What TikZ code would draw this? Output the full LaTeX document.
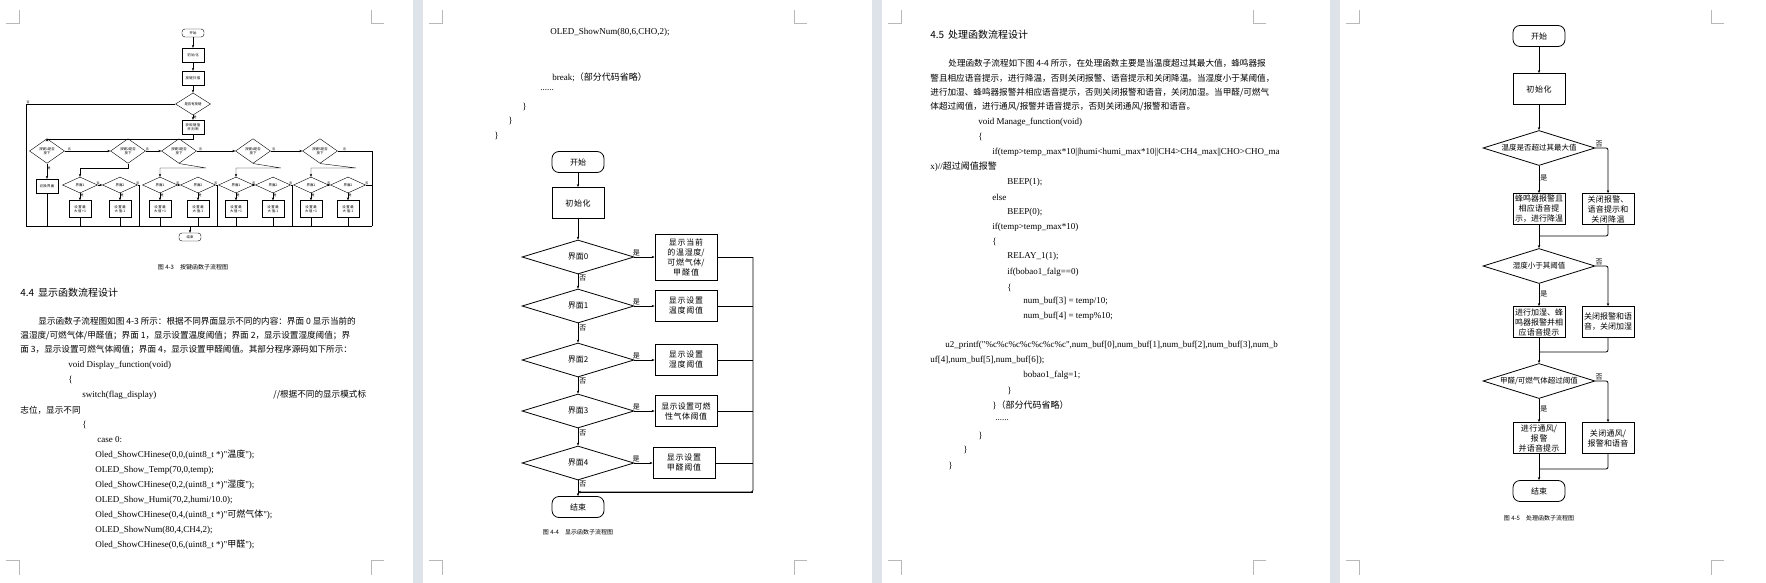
\documentclass[tikz,border=0pt]{standalone}
\usepackage{fontspec}
\setmainfont{Noto Sans CJK SC}
\newfontfamily\cjk{Noto Sans CJK SC}
\newfontfamily\code{Liberation Serif}
\XeTeXlinebreaklocale "zh"
\XeTeXlinebreakskip=0pt plus 1pt
\usetikzlibrary{shapes.geometric,arrows.meta,positioning}
\definecolor{gapgray}{HTML}{DDE3E8}
\definecolor{markgray}{HTML}{B8B8B8}
\begin{document}
\begin{tikzpicture}[
x=1pt,y=-1pt,thick,
>={Stealth[length=3pt,width=2.4pt]},
body/.style={anchor=west,inner sep=0pt,font=\fontsize{8.6}{10}\selectfont},
src/.style={anchor=west,inner sep=0pt,font=\fontsize{9}{10}\selectfont\code},
term/.style={draw,rounded corners=7pt,minimum width=52pt,minimum height=21pt,font=\fontsize{8}{9}\selectfont},
box/.style={draw,minimum width=52pt,minimum height=31pt,align=center,text width=48pt,inner sep=1pt,font=\fontsize{8}{10}\selectfont},
wbox/.style={box,minimum width=62pt,text width=58pt},
dec/.style={draw,diamond,minimum width=112pt,minimum height=34pt,inner sep=0pt,font=\fontsize{8}{9}\selectfont},
tiny/.style={font=\fontsize{3.4}{4}\selectfont,inner sep=0.5pt,align=center},
tterm/.style={tiny,draw,rounded corners=3pt,minimum width=22pt,minimum height=8pt},
tbox/.style={tiny,draw,minimum width=22pt,minimum height=14pt,text width=20pt},
tdec/.style={tiny,draw,diamond,minimum width=35pt,minimum height=16pt},
lbl/.style={font=\fontsize{7}{8}\selectfont,inner sep=1pt},
tlbl/.style={font=\fontsize{3}{3}\selectfont,inner sep=0.5pt}]
\useasboundingbox (0,0) rectangle (1766,583);
% pages and gaps
\fill[white] (0,0) rectangle (1766,583);
\foreach \gx in {413,872,1330}
  \fill[gapgray] (\gx,0) rectangle (\gx+10,583);
\foreach \px in {0,423,882,1340}{
  \draw[markgray,thin] (\px+6,23) -- (\px+19,23) -- (\px+19,10);
  \draw[markgray,thin] (\px+384,23) -- (\px+371,23) -- (\px+371,10);
  \draw[markgray,thin] (\px+6,560) -- (\px+19,560) -- (\px+19,575);
  \draw[markgray,thin] (\px+384,560) -- (\px+371,560) -- (\px+371,575);
}

%page 1: key flow
\begin{scope}[thin]
  \node[tterm] (k0) at (193,33) {开始};
  \node[tbox] (k1) at (193,55) {初始化};
  \node[tbox] (k2) at (193,78) {按键扫描};
  \node[tdec] (k3) at (193,104) {是否有按键};
  \node[tbox] (k4) at (193,127) {获取键值\\并判断};
  \node[tterm] (kend) at (190,237) {结束};
  \coordinate (kbl) at (26,226);
  \coordinate (kbr) at (372,226);
  \draw (kbl) -- (kbr);
  \draw[->] (190,226) -- (kend);
  \draw[->] (k0) -- (k1);
  \draw[->] (k1) -- (k2);
  \draw[->] (k2) -- (k3);
  \draw[->] (k3) -- (k4) node[tlbl,right,pos=0.4] {是};
  \draw (k3.west) -- (26,104) node[tlbl,above right] {否} -- (kbl);
  \foreach \i/\x in {1/47,2/128,3/179,4/253,5/320}
    \node[tdec] (s\i) at (\x,151) {按键{\i}是否\\按下};
  \draw[->] (k4.south) -- (193,139) -| (s1.north);
  \foreach \i/\j in {1/2,2/3,3/4,4/5}
    \draw[->] (s\i.east) -- (s\j.west) node[tlbl,above,pos=0.1] {否};
  \draw (s5.east) -- (372,151) node[tlbl,above,pos=0.2] {否} -- (kbr);
  \node[tbox] (sb1) at (47,186) {切换界面};
  \draw[->] (s1) -- (sb1) node[tlbl,right,pos=0.3] {是};
  \draw (sb1) -- (47,226);
  \foreach \i/\xa/\xb/\xd in {2/80/120/139,3/160/198/217,4/236/273/292,5/311/348/372}{
    \node[tdec] (a\i) at (\xa,185) {界面1};
    \node[tdec] (b\i) at (\xb,185) {界面2};
    \node[tbox,minimum height=17pt] (ab\i) at (\xa,209) {设置最\\大值+1};
    \node[tbox,minimum height=17pt] (bb\i) at (\xb,209) {设置最\\大值-1};
    \draw[->] (s\i.south) -- (\xb+8,168) -| (a\i.north);
    \draw[->] (a\i.east) -- (b\i.west) node[tlbl,above,pos=0.1] {否};
    \draw (b\i.east) -- (\xd,185) node[tlbl,above,pos=0.2] {否} -- (\xd,226);
    \draw[->] (a\i) -- (ab\i) node[tlbl,right,pos=0.3] {是};
    \draw[->] (b\i) -- (bb\i) node[tlbl,right,pos=0.3] {是};
    \draw (ab\i) -- (\xa,226);
    \draw (bb\i) -- (\xb,226);
  }
\end{scope}
\node[font=\fontsize{6}{7}\selectfont] (cap1) at (193,267) {图 4-3\quad 按键函数子流程图};
\node[body,font=\fontsize{10}{11}\selectfont] at (20,293) {4.4\, 显示函数流程设计};
\node[body] at (38,321) {显示函数子流程图如图 4-3 所示：根据不同界面显示不同的内容：界面 0 显示当前的};
\node[body] at (20,336) {温湿度/可燃气体/甲醛值；界面 1，显示设置温度阈值；界面 2，显示设置湿度阈值；界};
\node[body] at (20,350) {面 3，显示设置可燃气体阈值；界面 4，显示设置甲醛阈值。其部分程序源码如下所示：};
\node[src] at (68,365) {void Display\_function(void)};
\node[src] at (68,380) {\{};
\node[src] at (82,395) {switch(flag\_display)};
\node[body] at (273,395) {//根据不同的显示模式标};
\node[body] at (20,410) {志位，显示不同};
\node[src] at (82,425) {\{};
\node[src] at (97,440) {case 0:};
\node[src] at (95,455) {Oled\_ShowCHinese(0,0,(uint8\_t *)"{\cjk 温度}");};
\node[src] at (95,470) {OLED\_Show\_Temp(70,0,temp);};
\node[src] at (95,485) {Oled\_ShowCHinese(0,2,(uint8\_t *)"{\cjk 湿度}");};
\node[src] at (95,500) {OLED\_Show\_Humi(70,2,humi/10.0);};
\node[src] at (95,515) {Oled\_ShowCHinese(0,4,(uint8\_t *)"{\cjk 可燃气体}");};
\node[src] at (95,530) {OLED\_ShowNum(80,4,CH4,2);};
\node[src] at (95,545) {Oled\_ShowCHinese(0,6,(uint8\_t *)"{\cjk 甲醛}");};

%page 2: display flow
\node[src] at (550,32) {OLED\_ShowNum(80,6,CHO,2);};
\node[src] at (552,77) {break;{\cjk （部分代码省略）}};
\node[src] at (540,90) {......};
\node[src] at (522,107) {\}};
\node[src] at (508,121) {\}};
\node[src] at (494,136) {\}};
\node[term] (d0) at (578,162) {开始};
\node[box] (d1) at (578,203) {初始化};
\node[term] (dend) at (578,507) {结束};
\foreach \i/\y in {0/257,1/306,2/360,3/411,4/463}
  \node[dec] (g\i) at (578,\y) {界面\i};
\node[wbox,minimum height=46pt] (h0) at (686,257) {显示当前的温湿度/\\可燃气体/\\甲醛值};
\node[wbox] (h1) at (686,306) {显示设置温度阈值};
\node[wbox] (h2) at (686,360) {显示设置湿度阈值};
\node[wbox] (h3) at (686,411) {显示设置可燃性气体阈值};
\node[wbox] (h4) at (684,463) {显示设置甲醛阈值};
\coordinate (dr) at (753,492);
\draw[->] (d0) -- (d1);
\draw[->] (d1) -- (g0);
\foreach \i/\j in {0/1,1/2,2/3,3/4}
  \draw[->] (g\i) -- (g\j) node[lbl,right,pos=0.25] {否};
\draw[->] (g4) -- (dend) node[lbl,right,pos=0.25] {否};
\foreach \i in {0,...,4}{
  \draw[->] (g\i.east) -- (h\i.west) node[lbl,above,pos=0.1] {是};
  \draw (h\i.east) -- (h\i.east -| dr);
}
\draw[rounded corners=2pt] (h0.east -| dr) -- (dr) -- (578,492);
\draw[->] (dr) -- (578,492);
\node[font=\fontsize{6}{7}\selectfont] (cap2) at (578,532) {图 4-4\quad 显示函数子流程图};

%page 3: text
\node[body,font=\fontsize{10}{11}\selectfont] at (930,35) {4.5\, 处理函数流程设计};
\node[body] at (948,63) {处理函数子流程如下图 4-4 所示，在处理函数主要是当温度超过其最大值，蜂鸣器报};
\node[body] at (930,78) {警且相应语音提示，进行降温，否则关闭报警、语音提示和关闭降温。当湿度小于某阈值，};
\node[body] at (930,93) {进行加湿、蜂鸣器报警并相应语音提示，否则关闭报警和语音，关闭加湿。当甲醛/可燃气};
\node[body] at (930,107) {体超过阈值，进行通风/报警并语音提示，否则关闭通风/报警和语音。};
\node[src] at (978,122) {void Manage\_function(void)};
\node[src] at (978,137) {\{};
\node[src] at (992,152) {if(temp>temp\_max*10||humi<humi\_max*10||CH4>CH4\_max||CHO>CHO\_ma};
\node[src] at (930,167) {x)//{\cjk 超过阈值报警}};
\node[src] at (1007,182) {BEEP(1);};
\node[src] at (992,197) {else};
\node[src] at (1007,212) {BEEP(0);};
\node[src] at (992,227) {if(temp>temp\_max*10)};
\node[src] at (992,242) {\{};
\node[src] at (1007,256) {RELAY\_1(1);};
\node[src] at (1007,272) {if(bobao1\_falg==0)};
\node[src] at (1007,288) {\{};
\node[src] at (1023,301) {num\_buf[3] = temp/10;};
\node[src] at (1023,316) {num\_buf[4] = temp\%10;};
\node[src] at (945,345) {u2\_printf("\%c\%c\%c\%c\%c\%c\%c",num\_buf[0],num\_buf[1],num\_buf[2],num\_buf[3],num\_b};
\node[src] at (930,360) {uf[4],num\_buf[5],num\_buf[6]);};
\node[src] at (1023,375) {bobao1\_falg=1;};
\node[src] at (1007,391) {\}};
\node[src] at (992,405) {\}{\cjk （部分代码省略）}};
\node[src] at (995,420) {......};
\node[src] at (978,436) {\}};
\node[src] at (963,450) {\}};
\node[src] at (948,466) {\}};

%page 4: manage flow
\node[term] (m0) at (1539,36) {开始};
\node[box] (m1) at (1539,89) {初始化};
\node[term] (mend) at (1539,491) {结束};
\node[dec,minimum height=35pt,font=\fontsize{7.5}{9}\selectfont] (q1) at (1539,148) {\makebox[0pt]{温度是否超过其最大值}};
\node[dec,minimum height=35pt,font=\fontsize{7.5}{9}\selectfont] (q2) at (1539,266) {\makebox[0pt]{湿度小于其阈值}};
\node[dec,minimum height=35pt,font=\fontsize{7.5}{9}\selectfont] (q3) at (1539,381) {\makebox[0pt]{甲醛/可燃气体超过阈值}};
\node[box] (y1) at (1539,209) {蜂鸣器报警且相应语音提示，进行降温};
\node[box] (y2) at (1539,322) {进行加湿、蜂鸣器报警并相应语音提示};
\node[box] (y3) at (1539,438) {进行通风/\\报警\\并语音提示};
\node[box] (n1) at (1608,209) {关闭报警、语音提示和关闭降温};
\node[box] (n2) at (1608,322) {关闭报警和语音，关闭加湿};
\node[box] (n3) at (1608,438) {关闭通风/\\报警和语音};
\draw[->] (m0) -- (m1);
\draw[->] (m1) -- (q1);
\foreach \i/\y/\nx in {1/236/q2,2/352/q3,3/469/mend}{
  \draw[->] (q\i) -- (y\i) node[lbl,right,pos=0.45] {是};
  \draw[->,rounded corners=2pt] (q\i.east) -- (n\i.north |- q\i.east) node[lbl,above,pos=0.3] {否} -- (n\i.north);
  \draw (y\i) -- (1539,\y);
  \draw[rounded corners=2pt] (n\i.south) -- (1608,\y) -- (1539,\y);
  \draw[->] (1539,\y) -- (\nx);
}
\node[font=\fontsize{6}{7}\selectfont] (cap4) at (1539,518) {图 4-5\quad 处理函数子流程图};
\end{tikzpicture}
\end{document}
